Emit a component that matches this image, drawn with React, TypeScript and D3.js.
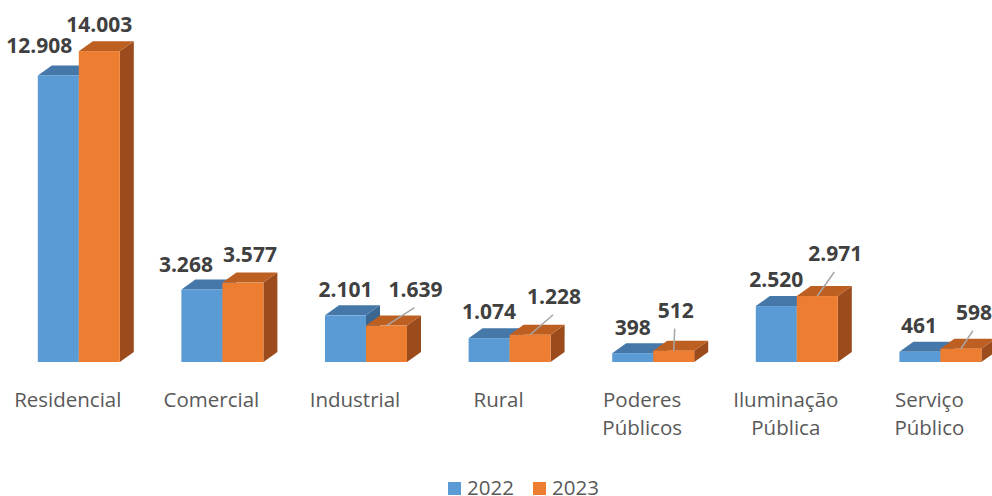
import React from 'react';
import * as d3 from 'd3';

const categories = ['Residencial', 'Comercial', 'Industrial', 'Rural', 'Poderes Públicos', 'Iluminação Pública', 'Serviço Público'];
const series = ['2022', '2023'];
const values2022 = [12908, 3268, 2101, 1074, 398, 2520, 461];
const values2023 = [14003, 3577, 1639, 1228, 512, 2971, 598];

// label nudges (dx, dy above bar top), leader flag
const nudge2022 = [[-19, 22], [-16, 17], [0, 18], [0, 19], [0, 18], [0, 19], [-1, 19]];
const nudge2023 = [[0, 19], [7, 21], [29, 29], [24, 31], [2, 33], [18, 35], [13, 29]];
const leader2023 = [false, false, true, true, true, true, true];

const W = 992;
const H = 496;
const BAR_W = 41;
const DX = 14;
const DY = 10;

const colors = {
  '2022': { front: '#5B9BD5', top: '#4577A8', side: '#3B6792' },
  '2023': { front: '#ED7D31', top: '#BE5F22', side: '#9B4B1C' },
};

const fmt = (v: number) => d3.format(',')(v).replace(/,/g, '.');

export default function App() {
  const x = d3.scaleBand().domain(categories).range([7, 7 + 143.6 * categories.length]);
  const xs = d3.scaleBand().domain(series).range([-BAR_W, BAR_W]);
  const y = d3.scaleLinear().domain([0, 16000]).range([362, 362 - 16000 * 0.0222]);

  const bar = (cat: string, s: string, v: number, key: string) => {
    const x0 = (x(cat) as number) + x.bandwidth() / 2 + (xs(s) as number);
    const x1 = x0 + BAR_W;
    const yt = y(v);
    const yb = y(0);
    const c = colors[s as '2022' | '2023'];
    const side = `M${x1},${yt} L${x1 + DX},${yt - DY} L${x1 + DX},${yb - DY} L${x1},${yb} Z`;
    const top = `M${x0},${yt} L${x0 + DX},${yt - DY} L${x1 + DX},${yt - DY} L${x1},${yt} Z`;
    return (
      <g key={key}>
        <path d={side} fill={c.side} />
        <path d={top} fill={c.top} />
        <rect x={x0} y={yt} width={BAR_W} height={yb - yt} fill={c.front} />
      </g>
    );
  };

  const label = (cat: string, s: string, v: number, n: number[], lead: boolean, key: string) => {
    const cx = (x(cat) as number) + x.bandwidth() / 2 + (xs(s) as number) + BAR_W / 2;
    const yt = y(v);
    const lx = cx + n[0];
    const ly = yt - n[1];
    return (
      <g key={key}>
        {lead && <line x1={cx} y1={yt} x2={lx - 1} y2={ly + 11} stroke="#A6A6A6" strokeWidth={1.5} />}
        <text x={lx} y={ly} textAnchor="middle" fontFamily="'Open Sans', sans-serif" fontWeight="bold" fontSize={21} fill="#404040">
          {fmt(v)}
        </text>
      </g>
    );
  };

  return (
    <div style={{ position: 'fixed', left: 0, top: 0 }}>
      <svg width={W} height={H} style={{ display: 'block', background: '#fff' }}>
        {categories.map((c, i) => (
          <g key={c}>
            {bar(c, '2022', values2022[i], 'b22')}
            {bar(c, '2023', values2023[i], 'b23')}
          </g>
        ))}
        {categories.map((c, i) => (
          <g key={'l' + c}>
            {label(c, '2022', values2022[i], nudge2022[i], false, 'l22')}
            {label(c, '2023', values2023[i], nudge2023[i], leader2023[i], 'l23')}
          </g>
        ))}
        {categories.map((c) => {
          const words = c.split(' ');
          const cx = (x(c) as number) + x.bandwidth() / 2 - 11;
          return (
            <text key={'c' + c} x={cx} y={407} textAnchor="middle" fontFamily="'Open Sans', sans-serif" fontSize={20.5} fill="#595959">
              {words.map((w, j) => (
                <tspan key={j} x={cx} dy={j === 0 ? 0 : 28}>{w}</tspan>
              ))}
            </text>
          );
        })}
        <g fontFamily="'Open Sans', sans-serif" fontSize={20.5} fill="#595959">
          <rect x={448} y={482} width={13} height={13} fill={colors['2022'].front} />
          <text x={467} y={495}>{series[0]}</text>
          <rect x={533} y={482} width={13} height={13} fill={colors['2023'].front} />
          <text x={552} y={495}>{series[1]}</text>
        </g>
      </svg>
    </div>
  );
}
